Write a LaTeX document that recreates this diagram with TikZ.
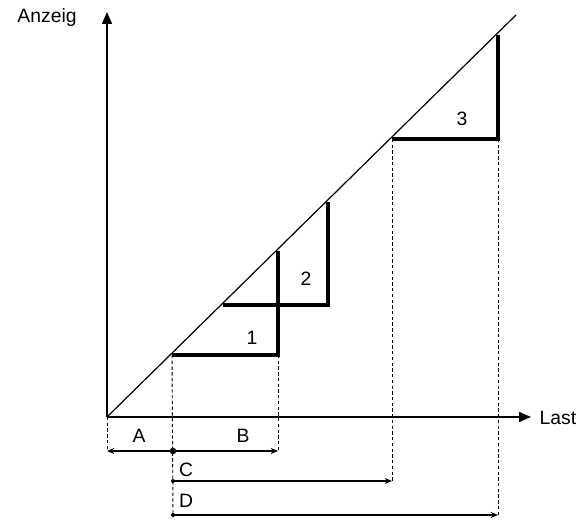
\documentclass[tikz,border=0pt]{standalone}
\usepackage{fontspec}
\setmainfont{Liberation Sans}
\usetikzlibrary{arrows.meta,calc}

\begin{document}
\begin{tikzpicture}[
  x=0.75pt, y=-0.75pt,
  axis/.style={line width=1.3pt, -{Triangle[length=9pt, width=7.5pt]}},
  slope/.style={line width=0.9pt},
  stair/.style={line width=3pt, line join=miter},
  guide/.style={line width=0.7pt, dash pattern=on 2.5pt off 1.8pt},
  dim/.style={line width=1pt},
  tip/.style={-{Stealth[length=5.5pt, width=4.5pt]}},
  lbl/.style={font=\fontsize{14.5}{16}\selectfont, anchor=base, inner sep=0pt}
]
  \useasboundingbox (0,0) rectangle (583,520);
  % axes
  \coordinate (O) at (107,417);
  \coordinate (xend) at (531,417);
  \coordinate (yend) at (107,12);
  \coordinate (lend) at (516,15);
  \draw[axis] (O) -- (xend);
  \draw[axis] (O) -- (yend);
  \draw[slope] (O) -- (lend);
  \node[lbl] (anzeig) at (47,22.5) {Anzeig};
  \node[lbl] (last) at (558,425) {Last};
  % steps
  \coordinate (s1a) at (172,355);
  \coordinate (s1b) at (278,355);
  \coordinate (s1c) at (278,251);
  \coordinate (s2a) at (223,305);
  \coordinate (s2b) at (328,305);
  \coordinate (s2c) at (328,202);
  \coordinate (s3a) at (392,139);
  \coordinate (s3b) at (498,139);
  \coordinate (s3c) at (498,35);
  \draw[stair] (s1a) -- (s1b) -- (s1c);
  \draw[stair] (s2a) -- (s2b) -- (s2c);
  \draw[stair] (s3a) -- (s3b) -- (s3c);
  \node[lbl] (n1) at (252,345) {1};
  \node[lbl] (n2) at (306,286) {2};
  \node[lbl] (n3) at (462,126) {3};
  % dimension lines
  \coordinate (dA) at (107,451);
  \coordinate (dB0) at (173,451);
  \coordinate (dB) at (278,451);
  \coordinate (dC0) at (173,481);
  \coordinate (dC) at (392,481);
  \coordinate (dD0) at (173,515);
  \coordinate (dD) at (498,515);
  \draw[guide] (O) -- (dA);
  \draw[guide] (s1a) -- (dD0);
  \draw[guide] (s1b) -- (dB);
  \draw[guide] (s3a) -- (dC);
  \draw[guide] (s3b) -- (dD);
  \draw[dim, tip] (dB0) -- (dA);
  \draw[dim, tip] (dB0) -- (dB);
  \draw[dim, tip] (dC0) -- (dC);
  \draw[dim, tip] (dD0) -- (dD);
  \fill (dB0) circle[radius=3.3];
  \fill (dC0) circle[radius=2];
  \fill (dD0) circle[radius=2];
  \node[lbl] (la) at (139,443) {A};
  \node[lbl] (lb) at (243,443) {B};
  \node[lbl] (lc) at (186,477) {C};
  \node[lbl] (ld) at (186,508) {D};
\end{tikzpicture}
\end{document}
